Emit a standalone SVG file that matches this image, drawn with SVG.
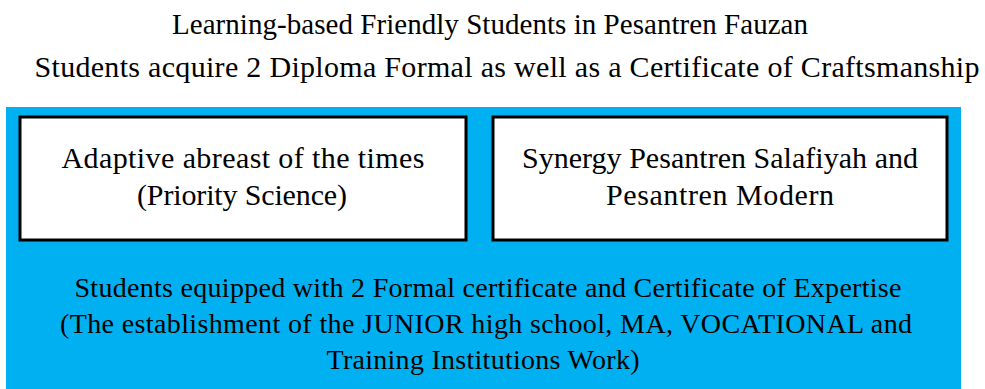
<svg xmlns="http://www.w3.org/2000/svg" width="985" height="389" viewBox="0 0 985 389">
<style>
text{font-family:"Liberation Serif","Times New Roman",serif;fill:#000;text-anchor:middle}
.t1{font-size:29px}
.t2{font-size:30px}
.b{font-size:30px}
.s{font-size:28px}
.box{fill:#fff;stroke:#000;stroke-width:3}
</style>
<rect x="0" y="0" width="985" height="389" fill="#fff"/>
<g id="title">
<text class="t1" x="490" y="34" textLength="636">Learning-based Friendly Students in Pesantren Fauzan</text>
<text class="t2" x="507" y="77" textLength="945">Students acquire 2 Diploma Formal as well as a Certificate of Craftsmanship</text>
</g>
<g id="container">
<rect x="6" y="107" width="955" height="282" fill="#00B0F0"/>
<text class="s" x="488" y="297" textLength="827">Students equipped with 2 Formal certificate and Certificate of Expertise</text>
<text class="s" x="486" y="333" textLength="852">(The establishment of the JUNIOR high school, MA, VOCATIONAL and</text>
<text class="s" x="483" y="369" textLength="313">Training Institutions Work)</text>
</g>
<g id="adaptive">
<rect class="box" x="20" y="117" width="446" height="123"/>
<text class="b" x="243" y="168" textLength="363">Adaptive abreast of the times</text>
<text class="b" x="242" y="205" textLength="210">(Priority Science)</text>
</g>
<g id="synergy">
<rect class="box" x="493" y="117" width="454" height="123"/>
<text class="b" x="720" y="168" textLength="396">Synergy Pesantren Salafiyah and</text>
<text class="b" x="720" y="205" textLength="228">Pesantren Modern</text>
</g>
<g id="connectors"/>
</svg>
